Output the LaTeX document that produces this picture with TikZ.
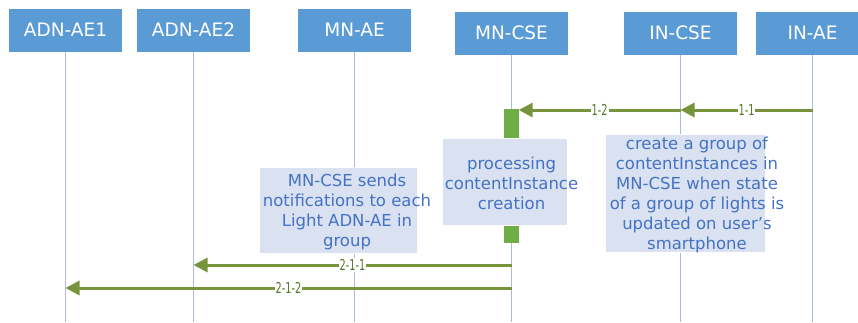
\documentclass[tikz,border=0pt]{standalone}
\usepackage{fontspec}
\setmainfont{DejaVu Sans}
\newfontfamily\labelfont[FakeStretch=0.65]{DejaVu Sans}
\usepackage{xcolor}
\usetikzlibrary{arrows.meta}
\definecolor{headblue}{HTML}{5B9BD5}
\definecolor{lifegray}{HTML}{A9BDD6}
\definecolor{msgolive}{HTML}{77933C}
\definecolor{lbltext}{HTML}{5A7428}
\definecolor{actgreen}{HTML}{70AD47}
\definecolor{notefill}{HTML}{DAE1F0}
\definecolor{notetext}{HTML}{4472C4}

\begin{document}
\begin{tikzpicture}[
  x=1pt, y=-1pt,
  head node/.style={
    fill=headblue,
    text=white,
    minimum width=113pt,
    minimum height=43pt,
    inner sep=0pt,
    font=\fontsize{18.5}{20}\selectfont
  },
  lifeline/.style={draw=lifegray, line width=1.8pt},
  act bar/.style={fill=actgreen, minimum width=15pt, minimum height=134pt, inner sep=0pt},
  note box/.style={fill=notefill, draw=white, inner sep=0pt},
  note text/.style={text=notetext, align=center, inner sep=0pt, font=\fontsize{16.5}{20}\selectfont},
  msg/.style={draw=msgolive, line width=3pt, -{Triangle[length=14pt,width=14pt]}},
  msg label/.style={fill=white, text=lbltext, inner sep=1pt, font=\labelfont\fontsize{15}{16}\selectfont}
]

\useasboundingbox (0,0) rectangle (858,322);

\node[head node] (adnae1) at (65.5,30)  {ADN-AE1};
\node[head node] (adnae2) at (193.5,30) {ADN-AE2};
\node[head node] (mnae)   at (354.5,30) {MN-AE};
\node[head node] (mncse)  at (511.5,33) {MN-CSE};
\node[head node] (incse)  at (680.5,33) {IN-CSE};
\node[head node] (inae)   at (812.5,33) {IN-AE};

\coordinate (bottom) at (0,322);
\foreach \who in {adnae1,adnae2,mnae,mncse,incse,inae}
  \draw[lifeline] (\who) -- (\who |- bottom);

\node[act bar] (act) at (511,176) {};

\node[note box, minimum width=125pt, minimum height=87pt,
  label={[note text, xshift=7pt, yshift=-1.5pt]center:{processing\\contentInstance\\creation}}]
  (procnote) at (504.5,181.5) {};
\node[note box, minimum width=160pt, minimum height=118pt,
  label={[note text, xshift=12pt, yshift=-2pt]center:{create a group of\\contentInstances in\\MN-CSE when state\\of a group of lights is\\updated on user's\\smartphone}}]
  (groupnote) at (685,193) {};
\node[note box, minimum width=158pt, minimum height=86pt,
  label={[note text, xshift=9pt, yshift=-2pt]center:{MN-CSE sends\\notifications to each\\Light ADN-AE in\\group}}]
  (sendnote) at (338,210) {};

\coordinate (m1) at (0,110);
\coordinate (m2) at (0,265);
\coordinate (m3) at (0,288);
\draw[msg] (inae |- m1) -- node[msg label] {1-1} (incse |- m1);
\draw[msg] (incse |- m1) -- node[msg label] {1-2} (act.east |- m1);
\draw[msg] (mncse |- m2) -- node[msg label] {2-1-1} (adnae2 |- m2);
\draw[msg] (mncse |- m3) -- node[msg label] {2-1-2} (adnae1 |- m3);
\end{tikzpicture}
\end{document}
